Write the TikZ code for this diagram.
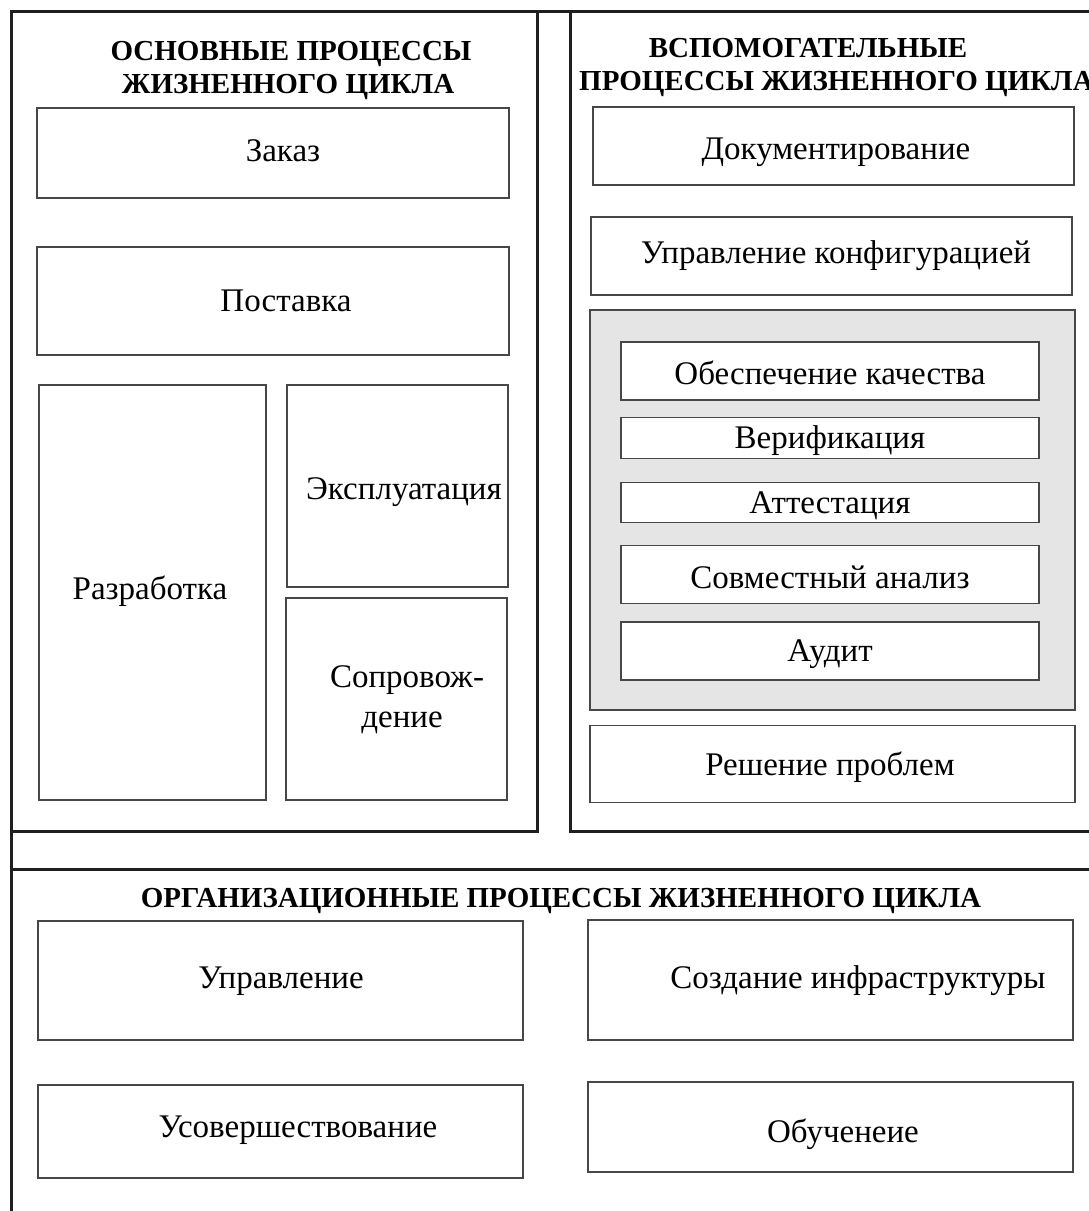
\documentclass[tikz,border=0pt]{standalone}
\usepackage{fontspec}
\setmainfont{Liberation Serif}
\begin{document}
\begin{tikzpicture}[x=1pt,y=-1pt,
  frame/.style={line width=3pt,draw=black!88},
  box/.style={draw=black!72,line width=1.4pt,fill=white,inner sep=0pt},
  boxtext/.style={inner sep=0pt,anchor=base,font=\fontsize{33}{40}\selectfont,align=center},
  head/.style={inner sep=0pt,anchor=base,font=\fontsize{29}{33}\selectfont\bfseries},
  greyarea/.style={draw=black!72,line width=1.4pt,fill=black!10,inner sep=0pt}]
\useasboundingbox (0,0) rectangle (1089,1211);
% frame lines
\coordinate (tl) at (11,11);
\coordinate (tr) at (1095,11);
\coordinate (bl) at (11,1215);
\draw[frame] (tr) -- (tl) -- (bl);
\draw[frame] (11,831) -- (537,831) -- (537,11);
\draw[frame] (570,11) -- (570,831) -- (1095,831);
\draw[frame] (11,869) -- (1095,869);
% headers
\node[head] (h1a) at (291,60) {ОСНОВНЫЕ ПРОЦЕССЫ};
\node[head] (h1b) at (288,93) {ЖИЗНЕННОГО ЦИКЛА};
\node[head] (h2a) at (808,57) {ВСПОМОГАТЕЛЬНЫЕ};
\node[head,anchor=base west] (h2b) at (579,90) {ПРОЦЕССЫ ЖИЗНЕННОГО ЦИКЛА};
\node[head] (h3) at (561,907) {ОРГАНИЗАЦИОННЫЕ ПРОЦЕССЫ ЖИЗНЕННОГО ЦИКЛА};
% left panel
\node[box,minimum width=472pt,minimum height=90pt] (zakaz) at (273,153) {};
\node[boxtext] (zakazt) at (283,161) {Заказ};
\node[box,minimum width=472pt,minimum height=108pt] (postavka) at (273,301) {};
\node[boxtext] (postavkat) at (286,311) {Поставка};
\node[box,minimum width=227pt,minimum height=415pt] (razr) at (152.5,592.5) {};
\node[boxtext] (razrt) at (150,599) {Разработка};
\node[box,minimum width=221pt,minimum height=202pt] (ekspl) at (397.5,486) {};
\node[boxtext] (eksplt) at (404,499) {Эксплуатация};
\node[box,minimum width=221pt,minimum height=202pt] (sopr) at (396.5,699) {};
\node[boxtext] (soprt1) at (407,687) {Сопровож-};
\node[boxtext] (soprt2) at (402,727) {дение};
% right panel
\node[box,minimum width=481pt,minimum height=78pt] (doc) at (833.5,146) {};
\node[boxtext] (doct) at (836,159) {Документирование};
\node[box,minimum width=481pt,minimum height=78pt] (konf) at (831.5,256) {};
\node[boxtext] (konft) at (836,263) {Управление конфигурацией};
\node[greyarea,minimum width=485pt,minimum height=400pt] (grey) at (832.5,510) {};
\node[box,minimum width=418pt,minimum height=58pt] (kach) at (830,371) {};
\node[boxtext] (kacht) at (830,384) {Обеспечение качества};
\node[box,minimum width=418pt,minimum height=41pt] (verif) at (830,438) {};
\node[boxtext] (veritt) at (830,448) {Верификация};
\node[box,minimum width=418pt,minimum height=40pt] (att) at (830,502.5) {};
\node[boxtext] (attt) at (830,513) {Аттестация};
\node[box,minimum width=418pt,minimum height=58pt] (sovm) at (830,574.5) {};
\node[boxtext] (sovmt) at (830,588) {Совместный анализ};
\node[box,minimum width=418pt,minimum height=58pt] (audit) at (830,651) {};
\node[boxtext] (auditt) at (830,661) {Аудит};
\node[box,minimum width=485pt,minimum height=77pt] (resh) at (832.5,764) {};
\node[boxtext] (resht) at (830,775) {Решение проблем};
% bottom panel
\node[box,minimum width=485pt,minimum height=119pt] (upr) at (280.5,980.5) {};
\node[boxtext] (uprt) at (281,988) {Управление};
\node[box,minimum width=485pt,minimum height=120pt] (infra) at (830.5,980) {};
\node[boxtext] (infrat) at (858,988) {Создание инфраструктуры};
\node[box,minimum width=485pt,minimum height=93pt] (usov) at (280.5,1131.5) {};
\node[boxtext] (usovt) at (298,1137) {Усовершествование};
\node[box,minimum width=485pt,minimum height=90pt] (obuch) at (830.5,1127) {};
\node[boxtext] (obucht) at (843,1142) {Обученеие};
\end{tikzpicture}
\end{document}
